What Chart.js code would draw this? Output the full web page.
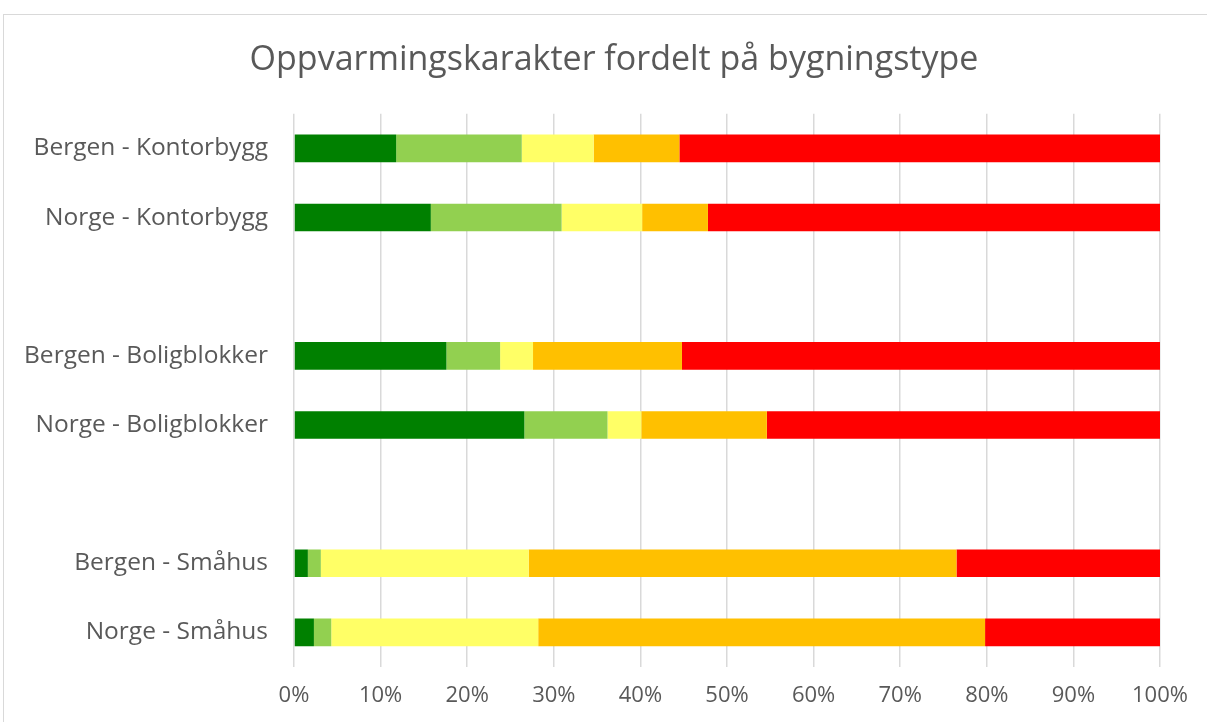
<!DOCTYPE html>
<html lang="no">

<head>
    <meta charset="UTF-8">
    <title>Oppvarmingskarakter fordelt på bygningstype</title>
    <script src="https://cdn.jsdelivr.net/npm/chart.js"></script>
    <style>
        body { margin: 0; background: #fff; }
        #wrap { position: relative; width: 1207px; height: 722px; overflow: hidden; }
        #frame { position: absolute; left: 3px; top: 14px; width: 1220px; height: 740px;
                 border: 1px solid #d9d9d9; pointer-events: none; }
    </style>
</head>

<body>
    <div id="wrap">
        <canvas id="myChart"></canvas>
        <div id="frame"></div>
    </div>
    <script>
        // kategorier (tomme plasser gir mellomrom mellom gruppene)
        const categories = ['Bergen - Kontorbygg', 'Norge - Kontorbygg', '',
            'Bergen - Boligblokker', 'Norge - Boligblokker', '',
            'Bergen - Småhus', 'Norge - Småhus'];
        // andel (%) per karakter
        const darkGreen = [11.8, 15.8, null, 17.6, 26.6, null, 1.6, 2.3];
        const lightGreen = [14.5, 15.1, null, 6.2, 9.6, null, 1.5, 2.0];
        const yellow = [8.3, 9.3, null, 3.8, 3.9, null, 24.0, 23.9];
        const orange = [9.9, 7.6, null, 17.2, 14.5, null, 49.4, 51.6];
        const red = [55.5, 52.2, null, 55.2, 45.4, null, 23.5, 20.2];
        const xTicks = [0, 10, 20, 30, 40, 50, 60, 70, 80, 90, 100];

        const textColor = '#595959';
        const ctx = document.getElementById('myChart');
        const mychart = new Chart(ctx, {
            type: 'bar',
            data: {
                labels: categories,
                datasets: [
                    { label: 'Mørkegrønn', data: darkGreen, backgroundColor: '#008000' },
                    { label: 'Lysegrønn', data: lightGreen, backgroundColor: '#92d050' },
                    { label: 'Gul', data: yellow, backgroundColor: '#ffff66' },
                    { label: 'Oransje', data: orange, backgroundColor: '#ffc000' },
                    { label: 'Rød', data: red, backgroundColor: '#ff0000' }
                ]
            },
            options: {
                indexAxis: 'y',
                responsive: true,
                maintainAspectRatio: false,
                animation: false,
                datasets: { bar: { barPercentage: 0.4, categoryPercentage: 1, borderWidth: 0 } },
                layout: { padding: { top: 14, right: 0, left: 21, bottom: 0 } },
                plugins: {
                    legend: { display: false },
                    tooltip: { enabled: false },
                    title: {
                        display: true,
                        text: 'Oppvarmingskarakter fordelt på bygningstype',
                        color: textColor,
                        font: { family: 'Open Sans', size: 34, weight: 'normal', lineHeight: 1.2 },
                        padding: { top: 26, bottom: 33 }
                    }
                },
                scales: {
                    x: {
                        stacked: true,
                        min: 0,
                        max: 100,
                        afterBuildTicks: function (axis) {
                            axis.ticks = xTicks.map(v => ({ value: v }));
                        },
                        afterFit: function (axis) { axis.height = 55; },
                        grid: { color: '#d9d9d9', lineWidth: 1.5, drawTicks: false },
                        border: { display: false },
                        ticks: {
                            padding: 16,
                            color: textColor,
                            font: { family: 'Open Sans', size: 22 },
                            callback: v => v + '%'
                        }
                    },
                    y: {
                        stacked: true,
                        afterFit: function (axis) { axis.width = 273; },
                        grid: { display: false, drawTicks: false },
                        border: { display: false },
                        ticks: {
                            padding: 26,
                            color: textColor,
                            font: { family: 'Open Sans', size: 24.5 }
                        }
                    },
                    // tom akse til høyre for å holde plass
                    yRight: {
                        position: 'right',
                        afterFit: function (axis) { axis.width = 47; },
                        grid: { display: false, drawTicks: false },
                        border: { display: false },
                        ticks: { display: false }
                    }
                }
            }
        });
    </script>
</body>

</html>
